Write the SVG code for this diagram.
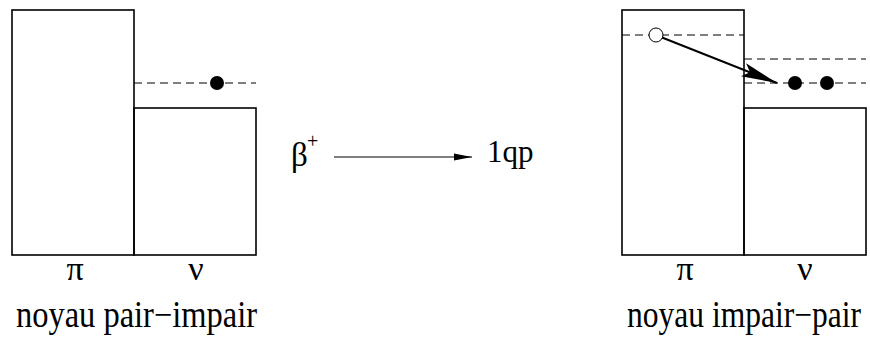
<svg xmlns="http://www.w3.org/2000/svg" width="870" height="337" viewBox="0 0 870 337">
<defs>
<marker id="ah" markerUnits="userSpaceOnUse" markerWidth="20" markerHeight="10" refX="18" refY="5" orient="auto">
<path d="M0,1.5 L18,5 L0,8.5 Z" fill="#000"/>
</marker>
<marker id="ahBig" markerUnits="userSpaceOnUse" markerWidth="40" markerHeight="18" refX="36" refY="9" orient="auto">
<path d="M0,2 L36,9 L0,16 L7,9 Z" fill="#000"/>
</marker>
</defs>
<rect width="870" height="337" fill="#fff"/>
<g id="left-nucleus">
<g fill="none" stroke="#000" stroke-width="1.6">
<rect x="12" y="10" width="122" height="245"/>
<rect x="134" y="108" width="122" height="147"/>
</g>
<line x1="134" y1="83" x2="256" y2="83" stroke="#000" stroke-width="1" stroke-dasharray="8 5"/>
<circle cx="217" cy="83" r="7" fill="#000"/>
<text font-family="Liberation Serif" x="75" y="280" font-size="34" text-anchor="middle">π</text>
<text font-family="Liberation Serif" x="196" y="280" font-size="34" text-anchor="middle">ν</text>
<text font-family="Liberation Serif" x="16" y="327" font-size="37" textLength="241" lengthAdjust="spacingAndGlyphs">noyau pair−impair</text>
</g>
<g id="right-nucleus">
<g fill="none" stroke="#000" stroke-width="1.6">
<rect x="622" y="10" width="122" height="245"/>
<rect x="744" y="108" width="122" height="147"/>
</g>
<g stroke="#000" stroke-width="1" stroke-dasharray="8 5">
<line x1="622" y1="35" x2="744" y2="35"/>
<line x1="744" y1="59" x2="866" y2="59"/>
<line x1="744" y1="83" x2="866" y2="83"/>
</g>
<circle cx="656" cy="35" r="7" fill="#fff" stroke="#000" stroke-width="1"/>
<circle cx="795" cy="83" r="7" fill="#000"/>
<circle cx="827" cy="83" r="7" fill="#000"/>
<text font-family="Liberation Serif" x="685" y="280" font-size="34" text-anchor="middle">π</text>
<text font-family="Liberation Serif" x="805" y="280" font-size="34" text-anchor="middle">ν</text>
<text font-family="Liberation Serif" x="627" y="327" font-size="37" textLength="234" lengthAdjust="spacingAndGlyphs">noyau impair−pair</text>
</g>
<g id="decay">
<text font-family="Liberation Serif" x="291" y="166" font-size="33">β</text>
<text font-family="Liberation Serif" x="307" y="148" font-size="20">+</text>
<text font-family="Liberation Serif" x="487" y="162" font-size="31">1qp</text>
</g>
<g id="connectors">
<line x1="334" y1="157" x2="472" y2="157" stroke="#000" stroke-width="1.2" marker-end="url(#ah)"/>
<line x1="662" y1="37.5" x2="777" y2="83" stroke="#000" stroke-width="2" marker-end="url(#ahBig)"/>
</g>
</svg>
